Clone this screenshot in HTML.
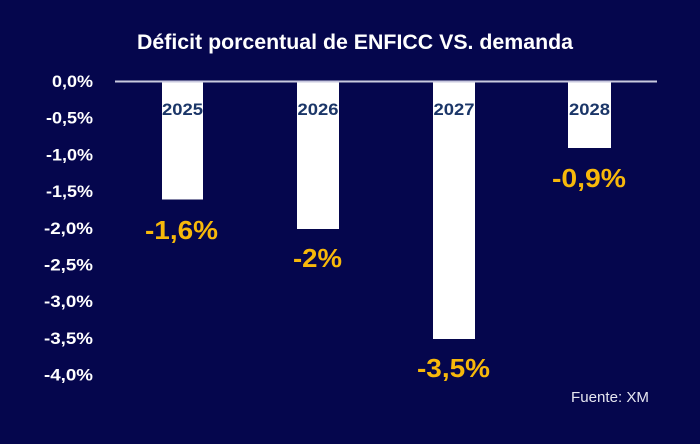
<!DOCTYPE html>
<html>
<head>
<meta charset="utf-8">
<style>
  html,body{margin:0;padding:0;background:#05064d;}
  svg{display:block;}
  text{font-family:"Liberation Sans",sans-serif;}
</style>
</head>
<body>
<svg width="700" height="444" viewBox="0 0 700 444" xmlns="http://www.w3.org/2000/svg">
  <rect x="0" y="0" width="700" height="444" fill="#05064d"/>

  <!-- Title -->
  <text x="137" y="49" font-size="21" font-weight="bold" fill="#ffffff" textLength="436" lengthAdjust="spacingAndGlyphs">Déficit porcentual de ENFICC VS. demanda</text>

  <!-- Y axis labels -->
  <g font-size="17" font-weight="bold" fill="#ffffff" text-anchor="end">
    <text x="93" y="87" textLength="41" lengthAdjust="spacingAndGlyphs">0,0%</text>
    <text x="93" y="123.7" textLength="47" lengthAdjust="spacingAndGlyphs">-0,5%</text>
    <text x="93" y="160.4" textLength="47" lengthAdjust="spacingAndGlyphs">-1,0%</text>
    <text x="93" y="197.1" textLength="47" lengthAdjust="spacingAndGlyphs">-1,5%</text>
    <text x="93" y="233.8" textLength="49" lengthAdjust="spacingAndGlyphs">-2,0%</text>
    <text x="93" y="270.5" textLength="49" lengthAdjust="spacingAndGlyphs">-2,5%</text>
    <text x="93" y="307.2" textLength="49" lengthAdjust="spacingAndGlyphs">-3,0%</text>
    <text x="93" y="343.9" textLength="49" lengthAdjust="spacingAndGlyphs">-3,5%</text>
    <text x="93" y="380.6" textLength="49" lengthAdjust="spacingAndGlyphs">-4,0%</text>
  </g>

  <!-- Bars -->
  <g fill="#ffffff">
    <rect x="162" y="82" width="41" height="117.5"/>
    <rect x="297" y="82" width="42" height="147"/>
    <rect x="433" y="82" width="42" height="257"/>
    <rect x="568" y="82" width="43" height="66"/>
  </g>

  <!-- Zero axis line -->
  <line x1="115" y1="81.5" x2="657" y2="81.5" stroke="#c9c9df" stroke-width="2"/>

  <!-- Year labels -->
  <g font-size="17" font-weight="bold" fill="#1b3668" text-anchor="middle">
    <text x="182.5" y="115" textLength="41" lengthAdjust="spacingAndGlyphs">2025</text>
    <text x="318" y="115" textLength="41" lengthAdjust="spacingAndGlyphs">2026</text>
    <text x="454" y="115" textLength="41" lengthAdjust="spacingAndGlyphs">2027</text>
    <text x="589.5" y="115" textLength="41" lengthAdjust="spacingAndGlyphs">2028</text>
  </g>

  <!-- Value labels -->
  <g font-size="26" font-weight="bold" fill="#f7b80a" text-anchor="middle">
    <text x="181.5" y="239" textLength="73" lengthAdjust="spacingAndGlyphs">-1,6%</text>
    <text x="317.5" y="267" textLength="49" lengthAdjust="spacingAndGlyphs">-2%</text>
    <text x="453.5" y="377" textLength="73" lengthAdjust="spacingAndGlyphs">-3,5%</text>
    <text x="589" y="187" textLength="74" lengthAdjust="spacingAndGlyphs">-0,9%</text>
  </g>

  <!-- Source -->
  <text x="571" y="402" font-size="15" fill="#e6e6f0" textLength="78" lengthAdjust="spacingAndGlyphs">Fuente: XM</text>
</svg>
</body>
</html>
